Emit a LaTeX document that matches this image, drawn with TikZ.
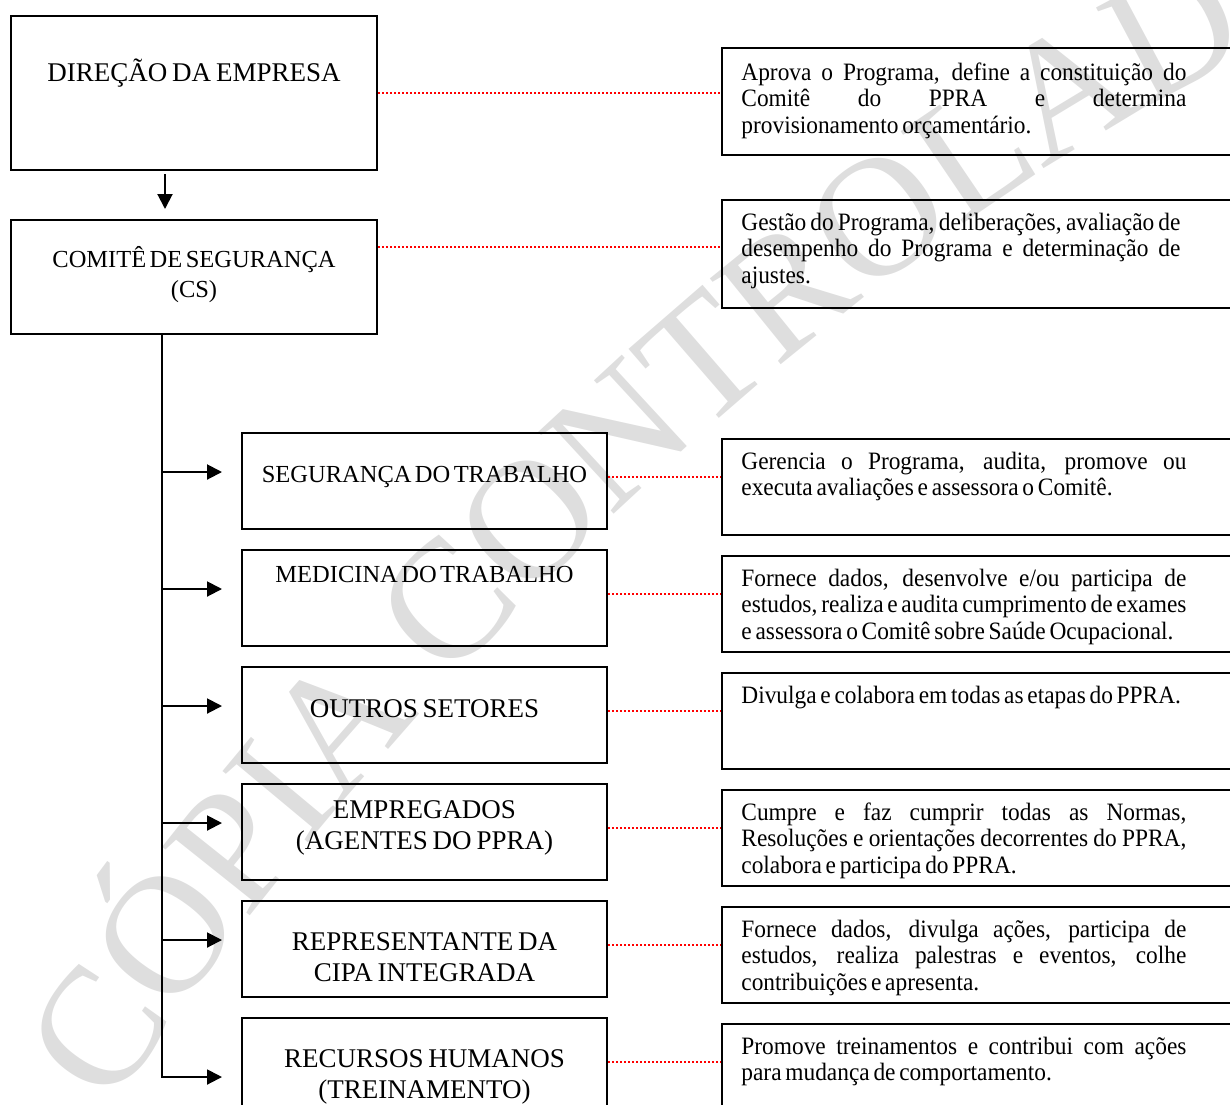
\documentclass[tikz,border=0pt]{standalone}
\usepackage{fontspec}
\setmainfont{Liberation Serif}
\newfontfamily\descfont{Liberation Serif}[FakeStretch=0.935]
\usetikzlibrary{positioning,arrows.meta,decorations.text}

\newcommand{\fline}[2][222.5pt]{\makebox[#1][s]{\spaceskip=0.1em plus 1fil\relax #2}\\}
\newcommand{\wmfont}{\fontsize{85pt}{85pt}\selectfont\color{black!13}}

\tikzset{
  orgbox/.style={draw, line width=1pt, inner sep=0pt, anchor=north west},
  leftbox/.style={orgbox, minimum width=183pt},
  midbox/.style={orgbox, minimum width=182.5pt, minimum height=48pt},
  descbox/.style={orgbox, minimum width=280pt, minimum height=48pt},
  narrow/.style={execute at begin node={\spaceskip=#1\xspaceskip=#1\relax}},
  boxlabel/.style={anchor=base, text width=190pt, align=center, inner sep=0pt, narrow=0.18em,
    font=\fontsize{13.5pt}{15.5pt}\selectfont},
  smalllabel/.style={boxlabel, narrow=0.14em, font=\fontsize{12.25pt}{15pt}\selectfont},
  desctext/.style={anchor=base west, text width=235pt, align=left, inner sep=0pt, narrow=0.15em,
    font=\descfont\fontsize{12.5pt}{13.3pt}\selectfont},
  dotline/.style={red, line width=1pt, dash pattern=on 1pt off 1pt},
  raised/.style={transform canvas={yshift=2pt}},
  arr/.style={-{Triangle[length=7.5pt,width=7.5pt]}, line width=1pt}
}

\begin{document}
\begin{tikzpicture}[x=0.5pt,y=-0.5pt]
    \useasboundingbox (0,0) rectangle (1230,1104);

    % watermark
    \path[decorate, decoration={text along path, raise=-29pt,
        text={|\wmfont|CÓPIA CONTROLADA}}]
        (64,1077) .. controls (309,699) and (753,251) .. (1150,40) -- (1503,-148);

    % left column
    \node[leftbox, minimum height=77pt] (dir) at (10,15)  {};
    \node[leftbox, minimum height=57pt] (cs)  at (10,219) {};
    \node[midbox] (seg)  at (241,432)            {};
    \node[midbox] (med)  [below=9.5pt of seg]  {};
    \node[midbox] (out)  [below=9.5pt of med]  {};
    \node[midbox] (emp)  [below=9.5pt of out]  {};
    \node[midbox] (cipa) [below=9.5pt of emp]  {};
    \node[midbox] (rh)   [below=9.5pt of cipa] {};

    \node[boxlabel]   (ldir)  at ([yshift=-33pt]dir.north)    {DIREÇÃO DA EMPRESA};
    \node[smalllabel] (lcs)   at ([yshift=-24pt]cs.north)     {COMITÊ DE SEGURANÇA\\(CS)};
    \node[smalllabel] (lseg)  at ([yshift=-25pt]seg.north)    {SEGURANÇA DO TRABALHO};
    \node[smalllabel] (lmed)  at ([yshift=-16.5pt]med.north)  {MEDICINA DO TRABALHO};
    \node[boxlabel]   (lout)  at ([yshift=-25.5pt]out.north)  {OUTROS SETORES};
    \node[boxlabel]   (lemp)  at ([yshift=-17.5pt]emp.north)  {EMPREGADOS\\(AGENTES DO PPRA)};
    \node[boxlabel]   (lcipa) at ([yshift=-25pt]cipa.north)   {REPRESENTANTE DA\\CIPA INTEGRADA};
    \node[boxlabel]   (lrh)   at ([yshift=-25pt]rh.north)     {RECURSOS HUMANOS\\(TREINAMENTO)};

    % right column
    \node[descbox, minimum height=53.5pt] (d1) at (721,47)  {};
    \node[descbox, minimum height=54pt]   (d2) at (721,199) {};
    \node[descbox] (d3) at (721,438)          {};
    \node[descbox] (d4) [below=9.5pt of d3] {};
    \node[descbox] (d5) [below=9.5pt of d4] {};
    \node[descbox] (d6) [below=9.5pt of d5] {};
    \node[descbox] (d7) [below=9.5pt of d6] {};
    \node[descbox] (d8) [below=9.5pt of d7] {};

    \node[desctext] (t1) at ([xshift=10pt,yshift=-16.5pt]d1.north west)
        {\fline{Aprova o Programa, define a constituição do}\fline{Comitê do PPRA e determina}provisionamento orçamentário.};
    \node[desctext] (t2) at ([xshift=10pt,yshift=-15.5pt]d2.north west)
        {\fline[219.5pt]{Gestão do Programa, deliberações, avaliação de}\fline[219.5pt]{desempenho do Programa e determinação de}ajustes.};
    \node[desctext] (t3) at ([xshift=10pt,yshift=-15.5pt]d3.north west)
        {\fline{Gerencia o Programa, audita, promove ou}executa avaliações e assessora o Comitê.};
    \node[desctext] (t4) at ([xshift=10pt,yshift=-15.5pt]d4.north west)
        {\fline{Fornece dados, desenvolve e/ou participa de}\fline{estudos, realiza e audita cumprimento de exames}e assessora o Comitê sobre Saúde Ocupacional.};
    \node[desctext] (t5) at ([xshift=10pt,yshift=-15.5pt]d5.north west)
        {Divulga e colabora em todas as etapas do PPRA.};
    \node[desctext] (t6) at ([xshift=10pt,yshift=-15.5pt]d6.north west)
        {\fline{Cumpre e faz cumprir todas as Normas,}\fline{Resoluções e orientações decorrentes do PPRA,}colabora e participa do PPRA.};
    \node[desctext] (t7) at ([xshift=10pt,yshift=-15.5pt]d7.north west)
        {\fline{Fornece dados, divulga ações, participa de}\fline{estudos, realiza palestras e eventos, colhe}contribuições e apresenta.};
    \node[desctext] (t8) at ([xshift=10pt,yshift=-15.5pt]d8.north west)
        {\fline{Promove treinamentos e contribui com ações}para mudança de comportamento.};

    % arrows
    \draw[arr, shorten <=1.5pt, shorten >=5pt] ([xshift=-14.5pt]dir.south) -- ([xshift=-14.5pt]cs.north);
    \draw[arr] ([xshift=-16pt]cs.south) |- ([xshift=-9.5pt,yshift=-5.5pt]rh.west);
    \draw[arr] ([xshift=-40pt,yshift=4.5pt]seg.west)  -- ([xshift=-9.5pt,yshift=4.5pt]seg.west);
    \draw[arr] ([xshift=-40pt,yshift=4.5pt]med.west)  -- ([xshift=-9.5pt,yshift=4.5pt]med.west);
    \draw[arr] ([xshift=-40pt,yshift=4.5pt]out.west)  -- ([xshift=-9.5pt,yshift=4.5pt]out.west);
    \draw[arr] ([xshift=-40pt,yshift=4.5pt]emp.west)  -- ([xshift=-9.5pt,yshift=4.5pt]emp.west);
    \draw[arr] ([xshift=-40pt,yshift=4.5pt]cipa.west) -- ([xshift=-9.5pt,yshift=4.5pt]cipa.west);

    % dotted links
    \draw[dotline] (dir.east) -- (dir.east -| d1.west);
    \draw[dotline, transform canvas={yshift=15pt}] (cs.east) -- (cs.east -| d2.west);
    \draw[dotline, raised] (seg.east)  -- (seg.east -| d3.west);
    \draw[dotline, raised] (med.east)  -- (med.east -| d4.west);
    \draw[dotline, raised] (out.east)  -- (out.east -| d5.west);
    \draw[dotline, raised] (emp.east)  -- (emp.east -| d6.west);
    \draw[dotline, raised] (cipa.east) -- (cipa.east -| d7.west);
    \draw[dotline, raised] (rh.east)   -- (rh.east -| d8.west);
\end{tikzpicture}
\end{document}
